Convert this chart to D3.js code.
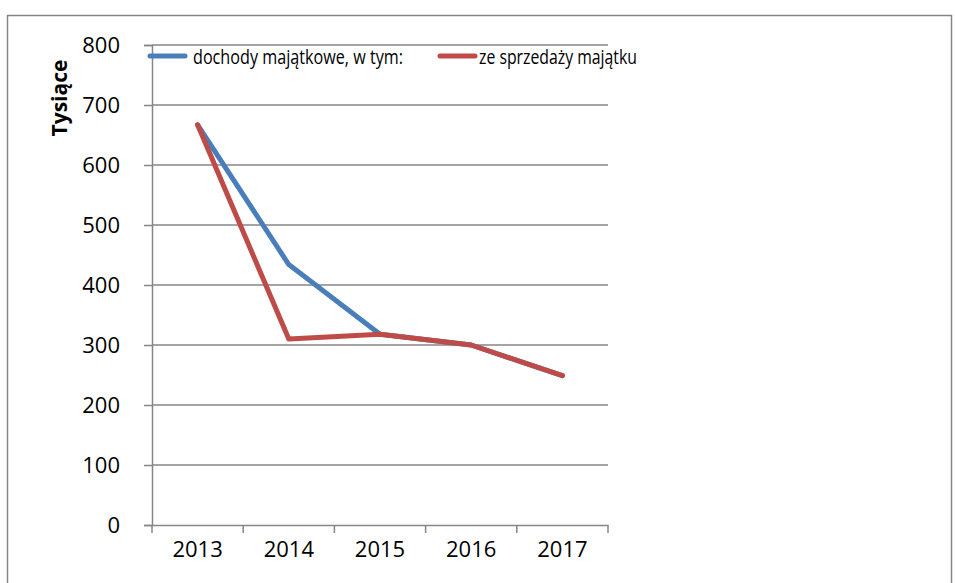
<!DOCTYPE html>
<html>
<head>
<meta charset="utf-8">
<script src="https://cdn.jsdelivr.net/npm/d3@7"></script>
<style>
    body { margin: 0; background: #fff; }
    text { font-family: "Open Sans", sans-serif; fill: #000; }
</style>
</head>
<body>
<div id="wrapper"></div>
<script>
const years = ["2013", "2014", "2015", "2016", "2017"];
const dochody = [667, 434, 318, 300, 249];
const sprzedaz = [667, 310, 318, 300, 249];
const seriesNames = ["dochody majątkowe, w tym:", "ze sprzedaży majątku"];
const yTicks = [0, 100, 200, 300, 400, 500, 600, 700, 800];

function build() {
    var dimension = {
        width: 955,
        height: 583,
        margin: { top: 45, right: 347, bottom: 58, left: 152 }
    };
    dimension.boundedWidth = dimension.width - dimension.margin.left - dimension.margin.right;
    dimension.boundedHeight = dimension.height - dimension.margin.top - dimension.margin.bottom;

    const wrapper = d3.select("#wrapper")
        .append("svg")
        .attr("width", dimension.width)
        .attr("height", dimension.height);

    // chart border
    wrapper.append("rect")
        .attr("x", 7.5)
        .attr("y", 15.5)
        .attr("width", 944)
        .attr("height", 600)
        .attr("fill", "none")
        .attr("stroke", "#868686")
        .attr("stroke-width", 1.5);

    const bounds = wrapper.append("g")
        .attr("transform", `translate(${dimension.margin.left},${dimension.margin.top})`);

    const x = d3.scaleBand().domain(years).range([0, dimension.boundedWidth]);
    const y = d3.scaleLinear().domain([0, 800]).range([dimension.boundedHeight, 0]);

    // gridlines
    bounds.append("g")
        .selectAll("line")
        .data(yTicks.filter(d => d > 0))
        .enter()
        .append("line")
        .attr("x1", 0)
        .attr("x2", dimension.boundedWidth)
        .attr("y1", d => y(d))
        .attr("y2", d => y(d))
        .attr("stroke", "#868686")
        .attr("stroke-width", 1.5);

    // y axis
    const yAxis = bounds.append("g")
        .call(d3.axisLeft(y).tickValues(yTicks).tickSize(8).tickPadding(24));
    yAxis.select(".domain").attr("stroke", "#868686").attr("stroke-width", 1.5);
    yAxis.selectAll(".tick line").attr("stroke", "#868686").attr("stroke-width", 1.5);
    yAxis.selectAll("text")
        .style("font-family", "'Open Sans', sans-serif")
        .style("font-size", "22px")
        .attr("fill", "#000");

    // x axis - ticks on band boundaries
    const xAxis = bounds.append("g")
        .attr("transform", `translate(0,${dimension.boundedHeight})`)
        .call(d3.axisBottom(x).tickSize(0).tickPadding(16));
    xAxis.select(".domain").attr("stroke", "#868686").attr("stroke-width", 1.5);
    xAxis.selectAll("text")
        .style("font-family", "'Open Sans', sans-serif")
        .style("font-size", "22px")
        .attr("fill", "#000");
    xAxis.append("g")
        .selectAll("line")
        .data(years.concat(["end"]))
        .enter()
        .append("line")
        .attr("x1", (d, i) => i < years.length ? x(d) : x(years[years.length - 1]) + x.bandwidth())
        .attr("x2", (d, i) => i < years.length ? x(d) : x(years[years.length - 1]) + x.bandwidth())
        .attr("y1", 0)
        .attr("y2", 8)
        .attr("stroke", "#868686")
        .attr("stroke-width", 1.5);

    // lines
    const line = d3.line()
        .x((d, i) => x(years[i]) + x.bandwidth() / 2)
        .y(d => y(d));

    bounds.append("path")
        .datum(dochody)
        .attr("d", line)
        .attr("fill", "none")
        .attr("stroke", "#4a7ebb")
        .attr("stroke-width", 5)
        .attr("stroke-linejoin", "round")
        .attr("stroke-linecap", "round");

    bounds.append("path")
        .datum(sprzedaz)
        .attr("d", line)
        .attr("fill", "none")
        .attr("stroke", "#be4b48")
        .attr("stroke-width", 5)
        .attr("stroke-linejoin", "round")
        .attr("stroke-linecap", "round");

    // y title
    wrapper.append("text")
        .attr("transform", "translate(67,98) rotate(-90)")
        .style("text-anchor", "middle")
        .style("font-family", "'Open Sans', sans-serif")
        .style("font-weight", "bold")
        .style("font-size", "21px")
        .text("Tysiące");

    // legend (text squeezed a bit, original font is narrower)
    const legend = wrapper.append("g");
    const legendItems = [
        { name: seriesNames[0], color: "#4a7ebb", x: 148, w: 210 },
        { name: seriesNames[1], color: "#be4b48", x: 438, w: 158 }
    ];
    legendItems.forEach(item => {
        legend.append("line")
            .attr("x1", item.x + 2)
            .attr("x2", item.x + 37)
            .attr("y1", 56)
            .attr("y2", 56)
            .attr("stroke", item.color)
            .attr("stroke-width", 5)
            .attr("stroke-linecap", "round");
        legend.append("text")
            .attr("x", item.x + (item.x > 200 ? 41 : 45))
            .attr("y", 64)
            .attr("textLength", item.w)
            .attr("lengthAdjust", "spacingAndGlyphs")
            .style("font-family", "'Open Sans', sans-serif")
            .style("font-size", "20.5px")
            .text(item.name);
    });
}

build();
</script>
</body>
</html>
